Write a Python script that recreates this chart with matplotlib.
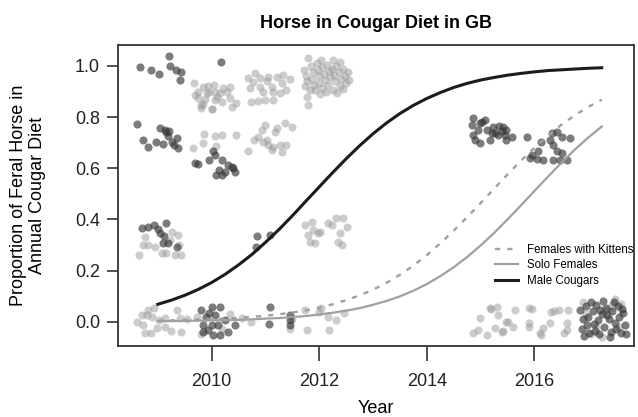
import matplotlib
matplotlib.use("Agg")
import matplotlib.pyplot as plt

plt.rcParams['font.family'] = ['Liberation Sans', 'DejaVu Sans']

# ---- fitted curves ----
curve_years = [2009.0, 2009.25, 2009.5, 2009.75, 2010.0, 2010.25, 2010.5, 2010.75, 2011.0, 2011.25,
               2011.5, 2011.75, 2012.0, 2012.25, 2012.5, 2012.75, 2013.0, 2013.25, 2013.5, 2013.75,
               2014.0, 2014.25, 2014.5, 2014.75, 2015.0, 2015.25, 2015.5, 2015.75, 2016.0, 2016.25,
               2016.5, 2016.75, 2017.0, 2017.25]
male_curve = [0.068, 0.084, 0.103, 0.126, 0.153, 0.185, 0.222, 0.263, 0.310, 0.360,
              0.414, 0.471, 0.527, 0.583, 0.637, 0.688, 0.735, 0.777, 0.814, 0.846,
              0.873, 0.896, 0.916, 0.932, 0.945, 0.955, 0.964, 0.971, 0.977, 0.982,
              0.985, 0.988, 0.991, 0.993]
kitten_curve = [0.004, 0.005, 0.006, 0.008, 0.010, 0.012, 0.015, 0.019, 0.023, 0.029,
                0.036, 0.044, 0.055, 0.068, 0.084, 0.103, 0.125, 0.152, 0.183, 0.219,
                0.260, 0.306, 0.356, 0.409, 0.464, 0.520, 0.576, 0.630, 0.680, 0.727,
                0.770, 0.807, 0.840, 0.868]
solo_curve = [0.002, 0.002, 0.003, 0.004, 0.005, 0.006, 0.007, 0.009, 0.012, 0.014,
              0.018, 0.022, 0.028, 0.035, 0.043, 0.053, 0.066, 0.081, 0.099, 0.121,
              0.147, 0.178, 0.213, 0.253, 0.298, 0.347, 0.400, 0.455, 0.511, 0.567,
              0.621, 0.673, 0.720, 0.763]

# ---- jittered observations: dark points ----
dark_years = [
    2008.67, 2008.87, 2009.03, 2009.21, 2009.22, 2009.33, 2009.43, 2009.42, 2010.18,
    2008.62, 2008.73, 2008.81, 2008.96, 2009.04, 2009.10, 2009.16, 2009.19, 2009.26, 2009.35, 2009.38, 2009.13, 2009.20, 2009.30,
    2009.69, 2009.74, 2009.96, 2010.06, 2010.02, 2010.19, 2010.31, 2010.13, 2010.08, 2010.19, 2010.25, 2010.43, 2010.40, 2010.38,
    2008.70, 2008.82, 2008.93, 2009.00, 2009.15, 2009.12, 2009.04, 2009.35, 2009.19, 2009.10,
    2010.84, 2011.08, 2010.82,
    2009.81, 2010.00, 2010.16, 2009.90, 2010.06, 2009.84, 2009.93, 2009.84, 2010.02, 2010.15, 2010.31, 2010.43, 2010.25, 2010.12, 2010.00, 2009.95,
    2011.08, 2011.07, 2011.46, 2011.45, 2011.46,
    2014.86, 2014.83, 2015.02, 2015.08, 2014.95, 2015.11, 2015.23, 2015.27, 2015.42, 2015.48, 2015.46, 2015.48, 2015.58,
    2015.17, 2014.99, 2014.90, 2015.33, 2015.21, 2014.86, 2014.99, 2015.35, 2015.40,
    2015.86, 2016.13, 2016.07, 2015.95, 2015.92, 2016.04, 2016.15, 2016.32, 2016.41, 2016.51, 2016.66, 2016.29,
    2016.35, 2016.41, 2016.51, 2016.47, 2016.35, 2016.60,
    2016.85, 2016.90, 2016.88, 2016.95, 2017.00, 2017.02, 2017.08, 2017.10, 2017.15, 2017.18, 2017.20, 2017.25,
    2017.30, 2017.33, 2017.38, 2017.42, 2017.45, 2017.50, 2017.55, 2017.58, 2017.60, 2017.65, 2017.68, 2017.70,
    2016.92, 2017.05, 2017.28, 2017.48, 2017.12, 2017.40, 2016.98, 2017.22, 2017.52, 2017.62, 2017.35,
]
dark_values = [
    0.996, 0.984, 0.968, 1.039, 1.000, 0.983, 0.977, 0.946, 1.016,
    0.772, 0.711, 0.682, 0.702, 0.756, 0.696, 0.741, 0.727, 0.704, 0.717, 0.678, 0.750, 0.745, 0.690,
    0.621, 0.618, 0.632, 0.652, 0.668, 0.632, 0.612, 0.593, 0.574, 0.574, 0.587, 0.587, 0.600, 0.606,
    0.366, 0.372, 0.378, 0.361, 0.387, 0.335, 0.346, 0.293, 0.307, 0.307,
    0.335, 0.339, 0.293,
    0.046, 0.059, 0.059, 0.020, 0.026, -0.013, -0.032, -0.039, -0.052, -0.052, -0.039, -0.013, 0.007, -0.013, -0.013, 0.035,
    0.056, -0.010, 0.026, 0.007, -0.013,
    0.795, 0.769, 0.782, 0.789, 0.750, 0.750, 0.763, 0.737, 0.763, 0.750, 0.730, 0.711, 0.724,
    0.711, 0.698, 0.711, 0.730, 0.737, 0.730, 0.775, 0.765, 0.745,
    0.724, 0.704, 0.669, 0.652, 0.639, 0.635, 0.632, 0.737, 0.743, 0.724, 0.717, 0.711,
    0.691, 0.669, 0.659, 0.632, 0.632, 0.632,
    0.045, 0.010, -0.030, 0.060, 0.020, -0.045, 0.040, -0.010, 0.065, 0.005, -0.050, 0.030,
    -0.020, 0.055, 0.010, -0.040, 0.040, -0.005, 0.060, 0.020, -0.045, 0.035, -0.015, -0.050,
    -0.055, 0.075, 0.080, 0.075, -0.035, -0.060, -0.015, 0.045, -0.030, 0.050, 0.025,
]

# ---- jittered observations: light points ----
light_years = [
    2009.67, 2009.75, 2009.84, 2009.94, 2010.05, 2010.06, 2009.91, 2009.75, 2009.84, 2009.81, 2010.00, 2010.06, 2010.19,
    2010.28, 2010.35, 2010.34, 2010.37, 2010.15, 2009.96, 2009.81, 2010.00, 2010.46, 2010.10, 2009.88, 2010.22, 2009.70,
    2010.68, 2010.80, 2010.90, 2011.05, 2011.21, 2011.33, 2010.71, 2010.90, 2010.96, 2011.14, 2011.39, 2010.74, 2010.87,
    2010.99, 2011.14, 2011.30, 2011.12, 2011.27, 2010.77, 2011.45, 2011.02,
    2011.80, 2012.04, 2012.26, 2012.38, 2011.77, 2011.80, 2011.72, 2011.75, 2011.78, 2011.74, 2011.85, 2011.88, 2011.86,
    2011.90, 2011.95, 2011.97, 2011.99, 2012.00, 2011.93, 2012.05, 2012.08, 2012.10, 2012.06, 2012.12, 2012.15, 2012.18,
    2012.20, 2012.17, 2012.24, 2012.27, 2012.30, 2012.25, 2012.32, 2012.36, 2012.40, 2012.38, 2012.44, 2012.47, 2012.50,
    2012.45, 2012.53, 2012.55, 2012.02, 2012.33, 2011.82,
    2009.66, 2009.86, 2009.84, 2010.06, 2010.19, 2010.45, 2010.09,
    2010.99, 2010.93, 2010.87, 2010.79, 2010.68, 2010.96, 2011.05, 2011.14, 2011.27, 2011.39, 2011.30, 2011.12, 2011.21,
    2011.18, 2011.36, 2011.49, 2011.02,
    2008.65, 2008.76, 2008.82, 2009.16, 2009.32, 2009.44, 2009.38, 2009.26, 2008.95, 2009.07, 2008.72, 2009.22, 2009.40,
    2011.73, 2011.86, 2011.89, 2011.80, 2012.01, 2011.83, 2011.92, 2012.17, 2012.32, 2012.45, 2012.51, 2012.38, 2012.35,
    2012.42, 2012.23, 2011.98,
    2008.70, 2008.82, 2008.93, 2008.73, 2008.76, 2008.88, 2008.98, 2009.13, 2009.13, 2009.35, 2009.44, 2009.41, 2009.03,
    2008.80, 2008.90, 2008.62, 2009.25, 2009.55,
    2009.72, 2010.35, 2010.20, 2009.80,
    2010.74, 2010.56, 2011.74, 2011.77, 2012.04, 2012.19, 2012.32, 2012.17, 2012.46, 2011.99, 2011.45, 2011.50,
    2015.18, 2015.30, 2015.33, 2015.63, 2015.90, 2015.96, 2016.30, 2016.45, 2016.63, 2016.37, 2014.86, 2014.95, 2015.11,
    2015.27, 2015.42, 2015.48, 2015.61, 2015.89, 2015.89, 2016.10, 2016.16, 2016.29, 2016.60, 2016.60, 2016.13, 2015.40,
    2014.99, 2015.51, 2016.54, 2015.20,
    2016.95, 2017.15, 2017.35, 2017.50, 2017.60, 2017.45, 2017.05, 2017.25, 2017.58, 2016.90,
]
light_values = [
    0.932, 0.900, 0.919, 0.923, 0.926, 0.900, 0.893, 0.874, 0.850, 0.835, 0.832, 0.867, 0.858,
    0.900, 0.917, 0.874, 0.841, 0.893, 0.900, 0.847, 0.830, 0.854, 0.880, 0.870, 0.915, 0.885,
    0.952, 0.971, 0.952, 0.958, 0.958, 0.965, 0.913, 0.919, 0.900, 0.900, 0.906, 0.860, 0.863,
    0.867, 0.867, 0.932, 0.919, 0.893, 0.939, 0.950, 0.940,
    1.030, 1.023, 1.023, 1.017, 0.880, 0.847, 0.985, 0.960, 0.940, 0.920, 1.000, 0.975, 0.950,
    0.925, 1.010, 0.985, 0.960, 0.935, 0.905, 0.995, 0.970, 0.945, 0.915, 0.900, 1.005, 0.980,
    0.955, 0.925, 0.990, 0.965, 0.940, 0.905, 1.000, 0.975, 0.950, 0.920, 0.990, 0.960, 0.935,
    0.910, 0.975, 0.945, 0.890, 0.895, 0.905,
    0.681, 0.733, 0.698, 0.727, 0.730, 0.730, 0.688,
    0.769, 0.750, 0.724, 0.711, 0.668, 0.704, 0.691, 0.684, 0.691, 0.691, 0.665, 0.672, 0.756,
    0.743, 0.776, 0.763, 0.711,
    0.261, 0.332, 0.300, 0.267, 0.261, 0.261, 0.339, 0.352, 0.293, 0.267, 0.300, 0.320, 0.300,
    0.378, 0.391, 0.359, 0.339, 0.352, 0.313, 0.307, 0.385, 0.404, 0.404, 0.372, 0.346, 0.313,
    0.300, 0.378, 0.346,
    0.026, 0.046, 0.052, -0.013, -0.045, -0.045, -0.026, -0.020, 0.013, 0.046, -0.039, 0.013, 0.007,
    0.026, 0.020, 0.000, -0.035, 0.010,
    0.020, 0.030, -0.030, -0.050,
    0.000, 0.013, 0.046, -0.032, 0.052, -0.032, 0.007, 0.020, 0.033, 0.039, -0.030, 0.010,
    0.052, 0.059, 0.026, 0.046, 0.052, 0.049, 0.039, 0.046, 0.046, 0.043, -0.045, -0.032, -0.052,
    -0.026, -0.035, 0.000, -0.020, -0.007, -0.020, -0.045, -0.026, -0.007, -0.007, -0.032, -0.052, -0.039,
    0.013, 0.000, -0.045, 0.050,
    0.030, -0.020, 0.045, 0.090, 0.070, 0.065, -0.050, -0.060, -0.020, 0.075,
]

legend_labels = ["Females with Kittens", "Solo Females", "Male Cougars"]
x_ticks = [2010, 2012, 2014, 2016]
y_ticks = [0.0, 0.2, 0.4, 0.6, 0.8, 1.0]

fig = plt.figure(figsize=(6.38, 4.17), dpi=100)
ax = fig.add_axes([118 / 638, 71.3 / 417, 516 / 638, 300.7 / 417])

ax.scatter(light_years, light_values, s=34, color='#9a9a9a', alpha=0.5, linewidths=0, zorder=2)
ax.scatter(dark_years, dark_values, s=34, color='#383838', alpha=0.66, linewidths=0, zorder=3)

l1, = ax.plot(curve_years, kitten_curve, color='#a0a0a0', lw=1.7, dashes=(2.2, 3.0), zorder=4,
              dash_capstyle='butt')
l2, = ax.plot(curve_years, solo_curve, color='#a0a0a0', lw=1.6, zorder=4)
l3, = ax.plot(curve_years, male_curve, color='#1c1c1c', lw=2.2, zorder=5)

ax.set_xlim(2008.26, 2017.85)
ax.set_ylim(-0.094, 1.082)
ax.set_xticks(x_ticks)
ax.set_xticklabels([str(t) for t in x_ticks])
ax.set_yticks(y_ticks)
ax.set_yticklabels([f"{t:.1f}" for t in y_ticks])
ax.tick_params(axis='x', direction='out', length=11, width=1.1, pad=9, labelsize=13, colors='#222222')
ax.tick_params(axis='y', direction='out', length=8, width=1.1, pad=5, labelsize=13, colors='#222222')
for sp in ax.spines.values():
    sp.set_linewidth(1.3)
    sp.set_color('#333333')

ax.set_xlabel("Year", fontsize=13, labelpad=7)
fig.text(28 / 638, 1 - 195 / 417, "Proportion of Feral Horse in\nAnnual Cougar Diet",
         rotation=90, ha='center', va='center', fontsize=13, linespacing=1.1)
fig.text(376 / 638, 1 - 23 / 417, "Horse in Cougar Diet in GB", ha='center', va='center',
         fontsize=13, fontweight='bold')

ax.legend([l1, l2, l3], legend_labels, loc='center left', bbox_to_anchor=(0.73, 0.267),
          frameon=False, fontsize=8.3, handlelength=2.0, handletextpad=0.8,
          labelspacing=0.32, borderpad=0, borderaxespad=0)

fig.savefig("out.png", dpi=100)
